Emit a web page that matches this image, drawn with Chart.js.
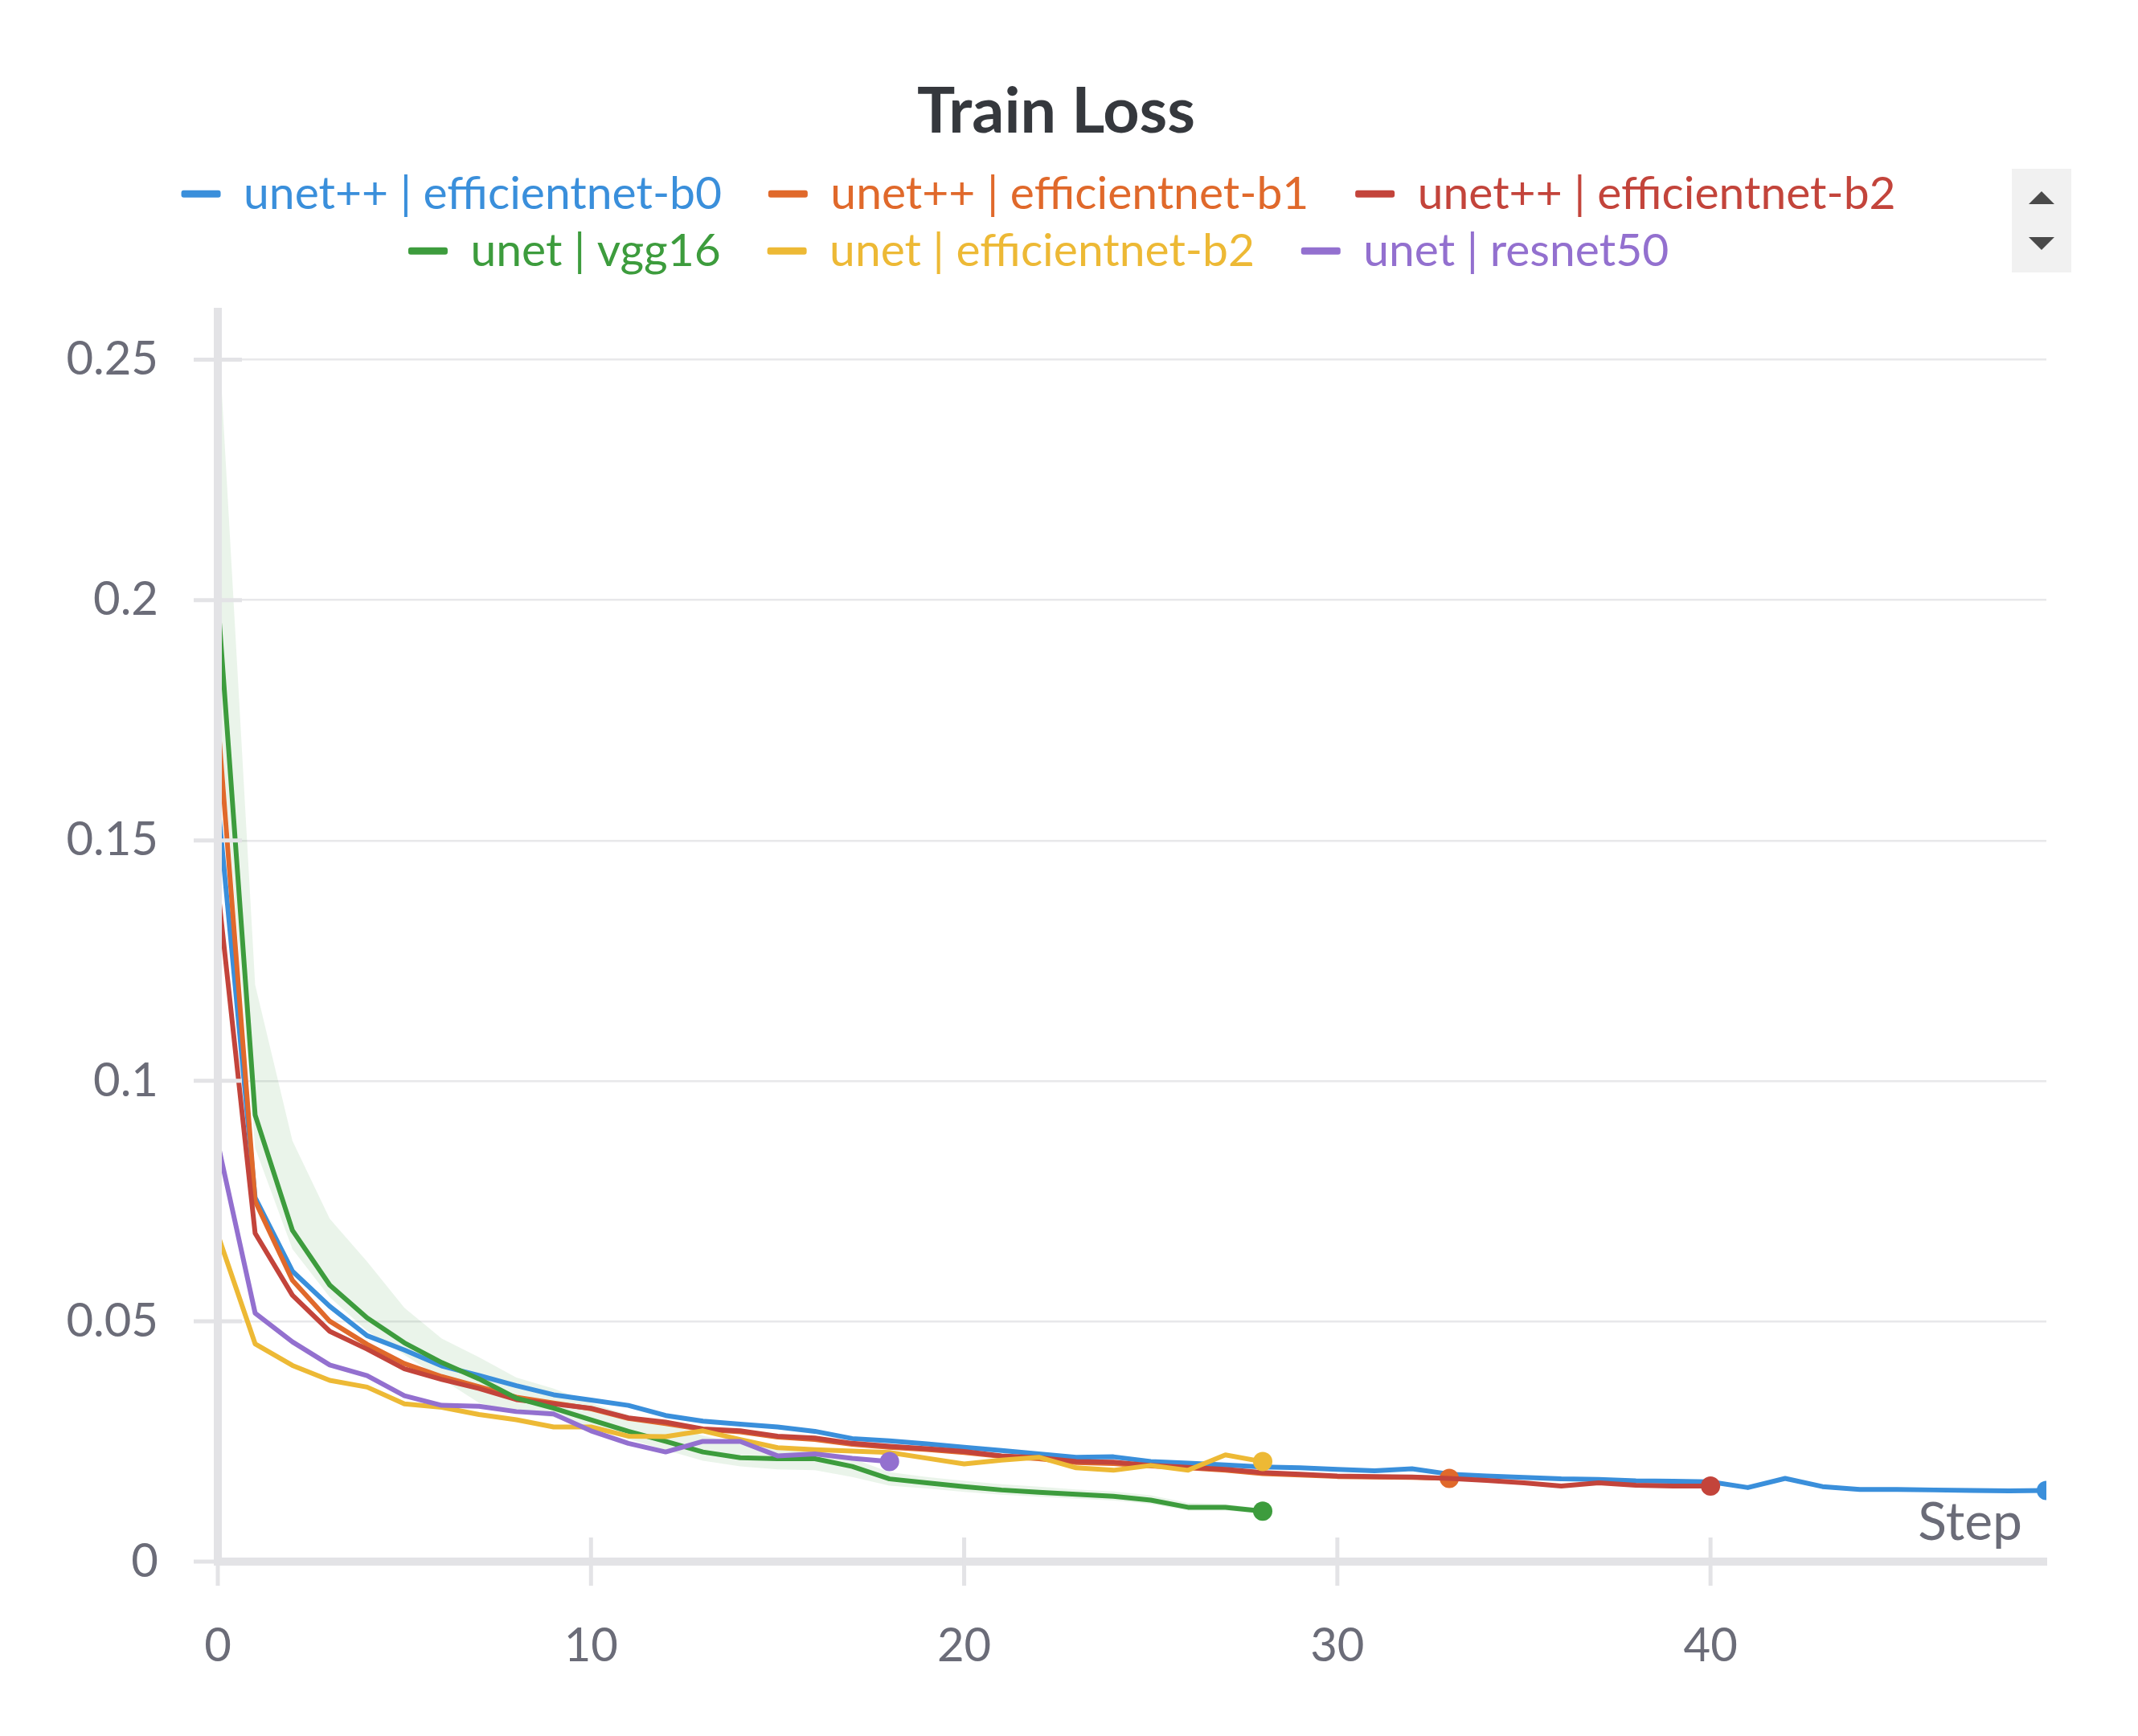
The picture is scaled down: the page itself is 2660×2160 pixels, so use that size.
<!DOCTYPE html>
<html>
<head>
<meta charset="utf-8">
<title>Train Loss</title>
<script src="https://cdn.jsdelivr.net/npm/chart.js@4.4.1/dist/chart.umd.min.js"></script>
<style>
  html, body { margin: 0; padding: 0; background: #fff; }
  #wrap { width: 2660px; height: 2160px; }
</style>
</head>
<body>
<div id="wrap"><canvas id="lossChart" width="2660" height="2160"></canvas></div>
<script>
/* ===== DATA ===== */
const steps = [0, 1, 2, 3, 4, 5, 6, 7, 8, 9, 10, 11, 12, 13, 14, 15, 16, 17, 18, 19,
  20, 21, 22, 23, 24, 25, 26, 27, 28, 29, 30, 31, 32, 33, 34, 35, 36, 37, 38, 39,
  40, 41, 42, 43, 44, 45, 46, 47, 48, 49];

const seriesNames = [
  "unet++ | efficientnet-b0",
  "unet++ | efficientnet-b1",
  "unet++ | efficientnet-b2",
  "unet | vgg16",
  "unet | efficientnet-b2",
  "unet | resnet50"
];

const unetppB0 = [0.158, 0.0757, 0.0604, 0.0531, 0.0470, 0.0440, 0.0407, 0.0387, 0.0366, 0.0347,
  0.0336, 0.0325, 0.0304, 0.0292, 0.0286, 0.0280, 0.0271, 0.0256, 0.0251, 0.0245,
  0.0238, 0.0231, 0.0224, 0.0217, 0.0218, 0.0208, 0.0205, 0.0201, 0.0197, 0.0195,
  0.0192, 0.0189, 0.0193, 0.0182, 0.0178, 0.0175, 0.0172, 0.0171, 0.0168, 0.0167,
  0.0166, 0.0154, 0.0173, 0.0156, 0.0150, 0.0150, 0.0149, 0.0148, 0.0147, 0.0148];

const unetppB1 = [0.175, 0.0750, 0.0585, 0.0500, 0.0452, 0.0412, 0.0385, 0.0364, 0.0342, 0.0330,
  0.0318, 0.0298, 0.0287, 0.0275, 0.0270, 0.0259, 0.0254, 0.0244, 0.0238, 0.0233,
  0.0227, 0.0219, 0.0214, 0.0206, 0.0204, 0.0199, 0.0195, 0.0190, 0.0183, 0.0180,
  0.0177, 0.0176, 0.0175, 0.0173];

const unetppB2 = [0.140, 0.0683, 0.0554, 0.0479, 0.0442, 0.0401, 0.0379, 0.0360, 0.0337, 0.0328,
  0.0319, 0.0299, 0.0290, 0.0276, 0.0272, 0.0261, 0.0257, 0.0246, 0.0240, 0.0235,
  0.0229, 0.0220, 0.0216, 0.0208, 0.0207, 0.0200, 0.0196, 0.0192, 0.0185, 0.0182,
  0.0178, 0.0177, 0.0176, 0.0173, 0.0169, 0.0164, 0.0157, 0.0164, 0.0159, 0.0157,
  0.0157];

const unetVgg16 = [0.200, 0.0929, 0.0689, 0.0575, 0.0507, 0.0455, 0.0414, 0.0380, 0.0340, 0.0319,
  0.0295, 0.0271, 0.0250, 0.0228, 0.0216, 0.0214, 0.0214, 0.0198, 0.0172, 0.0164,
  0.0156, 0.0149, 0.0144, 0.0140, 0.0136, 0.0128, 0.0113, 0.0113, 0.0105];

const unetB2 = [0.068, 0.0453, 0.0408, 0.0377, 0.0363, 0.0328, 0.0321, 0.0306, 0.0295, 0.0280,
  0.0280, 0.0261, 0.0260, 0.0272, 0.0254, 0.0237, 0.0233, 0.0230, 0.0227, 0.0215,
  0.0203, 0.0211, 0.0217, 0.0195, 0.0190, 0.0200, 0.0190, 0.0222, 0.0208];

const unetResnet50 = [0.087, 0.0517, 0.0457, 0.0409, 0.0387, 0.0345, 0.0325, 0.0323, 0.0312, 0.0307,
  0.0272, 0.0246, 0.0228, 0.0250, 0.0250, 0.0220, 0.0224, 0.0215, 0.0208];

// min / max band drawn around the vgg16 run
const vgg16BandHigh = [0.258, 0.120, 0.0875, 0.0713, 0.0624, 0.0528, 0.0464, 0.0425, 0.0383, 0.0360,
  0.0330, 0.0305, 0.0287, 0.0262, 0.0245, 0.0235, 0.0232, 0.0215, 0.0186, 0.0176,
  0.0168, 0.0161, 0.0156, 0.0150, 0.0146, 0.0138, 0.0122, 0.0120, 0.0110];
const vgg16BandLow = [0.180, 0.0860, 0.0650, 0.0550, 0.0480, 0.0430, 0.0380, 0.0330, 0.0310, 0.0300,
  0.0280, 0.0255, 0.0232, 0.0210, 0.0198, 0.0192, 0.0190, 0.0176, 0.0158, 0.0152,
  0.0145, 0.0139, 0.0135, 0.0131, 0.0127, 0.0120, 0.0106, 0.0106, 0.0100];

const yTicks = [0, 0.05, 0.1, 0.15, 0.2, 0.25];
const xTicks = [0, 10, 20, 30, 40];

/* ===== STYLE ===== */
const colors = ["#3a8fdb", "#e0692b", "#c3443b", "#3d9c3d", "#edb935", "#9370cf"];
const FONT = "Lato, 'Source Sans Pro', 'Noto Sans', sans-serif";
const axisGrey = "#e3e3e6";
const tickText = "#6b6c78";
const legendGap = 37;

const toPoints = vals => vals.map((v, i) => ({ x: steps[i], y: v }));

const runs = [unetppB0, unetppB1, unetppB2, unetVgg16, unetB2, unetResnet50];

const lineSets = runs.map((vals, i) => ({
  label: seriesNames[i],
  data: toPoints(vals),
  borderColor: colors[i],
  backgroundColor: colors[i],
  borderWidth: 6,
  borderJoinStyle: "round",
  borderCapStyle: "round",
  tension: 0,
  fill: false,
  order: 6 - i,
  pointRadius: ctx => ctx.dataIndex === vals.length - 1 ? 12 : 0,
  pointHoverRadius: 0,
  pointBorderWidth: 0
}));

const bandSets = [
  {
    label: "band-high",
    data: toPoints(vgg16BandHigh),
    borderWidth: 0,
    pointRadius: 0,
    backgroundColor: "rgba(61,156,61,0.11)",
    fill: "+1",
    order: 20
  },
  {
    label: "band-low",
    data: toPoints(vgg16BandLow),
    borderWidth: 0,
    pointRadius: 0,
    fill: false,
    order: 21
  }
];

/* ===== PLUGINS ===== */
// empty box between legend and plot
const gapBox = {
  id: "gapBox",
  beforeInit(chart) {
    Chart.layouts.addBox(chart, {
      position: "top",
      weight: 0,
      fullSize: true,
      options: {},
      update(maxWidth) { this.width = maxWidth; this.height = legendGap; },
      isHorizontal() { return true; },
      draw() {}
    });
  }
};

const decor = {
  id: "decor",
  afterDraw(chart) {
    const { ctx, chartArea: a, scales: { x, y } } = chart;
    ctx.save();
    // tick marks crossing both axes
    ctx.strokeStyle = axisGrey;
    ctx.lineWidth = 5;
    ctx.beginPath();
    yTicks.forEach(v => {
      const py = y.getPixelForValue(v);
      ctx.moveTo(a.left - 30, py);
      ctx.lineTo(a.left + 30, py);
    });
    xTicks.forEach(v => {
      const px = x.getPixelForValue(v);
      ctx.moveTo(px, a.bottom - 30);
      ctx.lineTo(px, a.bottom + 30);
    });
    ctx.stroke();

    // axis name
    ctx.fillStyle = tickText;
    ctx.font = "66px " + FONT;
    ctx.textAlign = "right";
    ctx.textBaseline = "middle";
    ctx.fillText("Step", a.right - 30, a.bottom - 48);

    // legend pager
    ctx.fillStyle = "#f1f1f1";
    ctx.fillRect(2503, 210, 74, 129);
    ctx.fillStyle = "#4a4a4a";
    ctx.beginPath();
    ctx.moveTo(2540, 238); ctx.lineTo(2556, 254); ctx.lineTo(2524, 254); ctx.closePath();
    ctx.moveTo(2540, 311); ctx.lineTo(2556, 295); ctx.lineTo(2524, 295); ctx.closePath();
    ctx.fill();
    ctx.restore();
  }
};

/* ===== CHART ===== */
new Chart(document.getElementById("lossChart"), {
  type: "line",
  data: { datasets: [...lineSets, ...bandSets] },
  plugins: [gapBox, decor],
  options: {
    responsive: false,
    devicePixelRatio: 1,
    animation: false,
    events: [],
    layout: { padding: { left: 82, right: 114, top: 0, bottom: 0 } },
    plugins: {
      title: {
        display: true,
        text: "Train Loss",
        color: "#35383d",
        font: { family: FONT, size: 79, weight: "bold" },
        padding: { top: 92, bottom: 12 }
      },
      legend: {
        position: "top",
        labels: {
          font: { family: FONT, size: 57 },
          padding: 14,
          boxWidth: 49,
          boxHeight: 9,
          sort: (a, b) => a.datasetIndex - b.datasetIndex,
          generateLabels: chart => seriesNames.map((name, i) => ({
            text: name + "   ",
            fillStyle: colors[i],
            strokeStyle: colors[i],
            fontColor: colors[i],
            lineWidth: 0,
            borderRadius: 3,
            hidden: false,
            datasetIndex: i
          }))
        }
      },
      tooltip: { enabled: false }
    },
    scales: {
      x: {
        type: "linear",
        min: 0,
        max: 49,
        afterBuildTicks: s => { s.ticks = xTicks.map(v => ({ value: v })); },
        afterFit: s => { s.height = 217; },
        grid: { display: false },
        border: { display: true, color: axisGrey, width: 10, z: 1 },
        ticks: {
          color: tickText,
          font: { family: FONT, size: 58 },
          padding: 62,
          maxRotation: 0,
          callback: v => String(v)
        }
      },
      y: {
        min: 0,
        max: 0.26,
        afterBuildTicks: s => { s.ticks = yTicks.map(v => ({ value: v })); },
        afterFit: s => { s.width = 189; },
        grid: { color: "#e8e8ea", lineWidth: 2.5, drawTicks: false },
        border: { display: true, color: axisGrey, width: 10, z: 1 },
        ticks: {
          color: tickText,
          font: { family: FONT, size: 58 },
          padding: 74,
          callback: v => String(v)
        }
      }
    }
  }
});
</script>
</body>
</html>
